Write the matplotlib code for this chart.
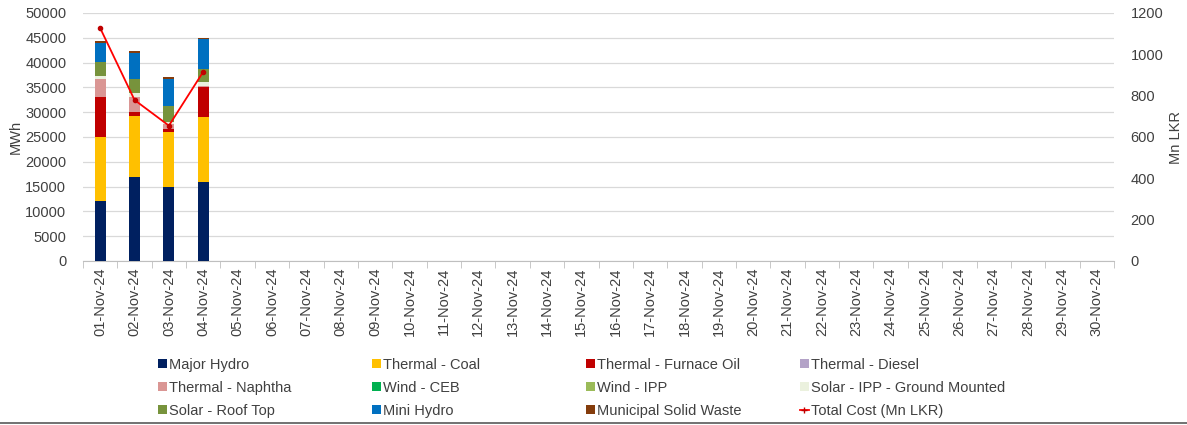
import matplotlib
matplotlib.use('Agg')
import matplotlib.pyplot as plt
import numpy as np
from matplotlib.patches import Patch
from matplotlib.lines import Line2D

plt.rcParams['font.family'] = ['Liberation Sans', 'DejaVu Sans']

# 日付ラベル
dates = ['%02d-Nov-24' % d for d in range(1, 31)]

# 発電量 (MWh) - 最初の4日分のみデータあり
major_hydro = [12050, 16950, 14950, 15950]
coal = [13050, 12350, 11100, 13100]
furnace_oil = [8000, 750, 550, 6100]
diesel = [0, 0, 0, 0]
naphtha = [3600, 3000, 950, 200]
wind_ceb = [0, 0, 0, 0]
wind_ipp = [0, 0, 0, 0]
solar_ipp = [600, 800, 550, 700]
solar_roof = [2850, 2750, 3050, 2750]
mini_hydro = [3900, 5350, 5600, 5900]
msw = [300, 400, 320, 330]

# 総コスト (Mn LKR)
total_cost = [1127, 779, 655, 916]

series = [
    ('Major Hydro', major_hydro, '#002060'),
    ('Thermal - Coal', coal, '#FFC000'),
    ('Thermal - Furnace Oil', furnace_oil, '#C00000'),
    ('Thermal - Diesel', diesel, '#B3A2C7'),
    ('Thermal - Naphtha', naphtha, '#DA9694'),
    ('Wind - CEB', wind_ceb, '#00B050'),
    ('Wind - IPP', wind_ipp, '#9BBB59'),
    ('Solar - IPP - Ground Mounted', solar_ipp, '#EBF1DE'),
    ('Solar - Roof Top', solar_roof, '#77933C'),
    ('Mini Hydro', mini_hydro, '#0070C0'),
    ('Municipal Solid Waste', msw, '#843C0C'),
]

fig = plt.figure(figsize=(11.87, 4.25), dpi=100)
ax = fig.add_axes([83 / 1187, 1 - 261 / 425, 1031 / 1187, 248 / 425])

x = np.arange(len(dates))
n = len(major_hydro)
bottom = np.zeros(n)
handles = []
for name, vals, col in series:
    ax.bar(x[:n], vals, width=0.32, bottom=bottom, color=col, zorder=3)
    bottom += np.array(vals)
    handles.append(Patch(facecolor=col, label=name))

ax.set_xlim(-0.5, len(dates) - 0.5)
ax.set_ylim(0, 50000)
ax.set_yticks(np.arange(0, 50001, 5000))
ax.set_xticks(x)
ax.set_xticklabels(dates, rotation=90, fontsize=10.5, color='#404040')
ax.set_xticks(np.arange(-0.5, len(dates), 1), minor=True)
ax.tick_params(axis='x', which='major', length=0, pad=5)
ax.tick_params(axis='x', which='minor', length=5, color='#BFBFBF')
ax.tick_params(axis='y', length=0, labelsize=10.5, labelcolor='#404040', pad=12)
ax.grid(axis='y', color='#D9D9D9', lw=0.9, zorder=0)
for s in ['top', 'right', 'left']:
    ax.spines[s].set_visible(False)
ax.spines['bottom'].set_color('#BFBFBF')
ax.set_ylabel('MWh', fontsize=10.5, color='#404040', labelpad=2)

ax2 = ax.twinx()
ax2.plot(x[:n], total_cost, color='#FF0000', lw=1.3, marker='o', ms=3,
         mfc='#C00000', mec='#C00000', zorder=4)
ax2.set_ylim(0, 1200)
ax2.set_yticks(np.arange(0, 1201, 200))
ax2.tick_params(axis='y', length=0, labelsize=10.5, labelcolor='#404040', pad=12)
for s in ['top', 'right', 'left', 'bottom']:
    ax2.spines[s].set_visible(False)
ax2.set_ylabel('Mn LKR', fontsize=10.5, color='#404040', labelpad=4)

handles.append(Line2D([0], [0], color='#FF0000', lw=1.3, marker='+', ms=4,
                      mec='#C00000', label='Total Cost (Mn LKR)'))

# 凡例 (4列, 行方向)
col_x = [152, 366, 580, 794]
for c in range(4):
    hs = [handles[r * 4 + c] for r in range(3)]
    fig.legend(handles=hs, loc='upper left',
               bbox_to_anchor=(col_x[c] / 1187, 1 - 352 / 425),
               frameon=False, fontsize=10.5, handlelength=0.6, handleheight=0.6,
               handletextpad=0.15, labelspacing=0.62, borderaxespad=0,
               labelcolor='#404040')

fig.add_artist(Line2D([0, 1], [2 / 425, 2 / 425], color='#595959', lw=1.2))

fig.savefig('out.png', dpi=100)
